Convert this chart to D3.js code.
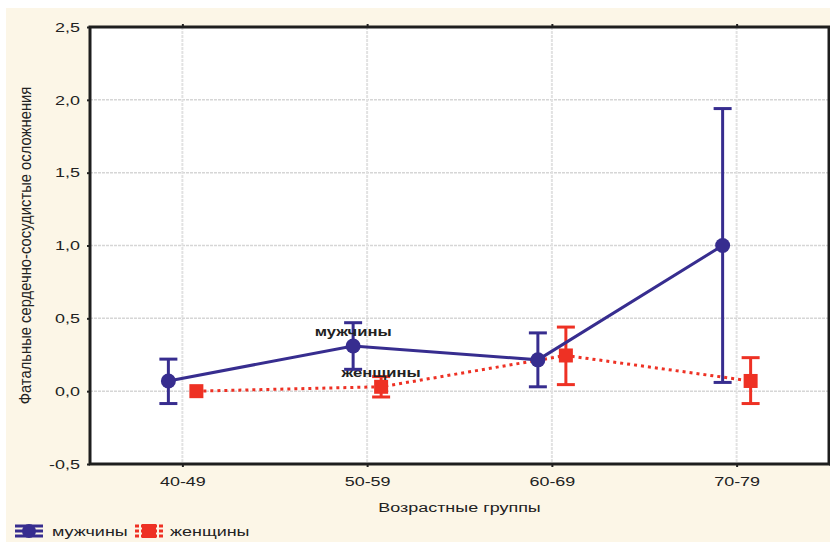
<!DOCTYPE html>
<html>
<head>
<meta charset="utf-8">
<script src="https://cdn.jsdelivr.net/npm/d3@7"></script>
<style>
    html, body { margin: 0; padding: 0; background: #ffffff; }
    svg { display: block; font-family: Arial, "Liberation Sans", sans-serif; }
</style>
</head>
<body>
<div id="chart"></div>
<script>
// Age groups (x categories)
const groups = ["40-49", "50-59", "60-69", "70-79"];

// Men: mean and interval
const menMean = [0.07, 0.31, 0.215, 1.0];
const menLow  = [-0.085, 0.15, 0.03, 0.06];
const menHigh = [0.22, 0.47, 0.40, 1.94];

// Women: mean and interval
const womenMean = [0.0, 0.03, 0.245, 0.07];
const womenLow  = [0.0, -0.04, 0.045, -0.085];
const womenHigh = [0.0, 0.10, 0.44, 0.23];

const yTicks = [-0.5, 0, 0.5, 1.0, 1.5, 2.0, 2.5];
const seriesNames = ["мужчины", "женщины"];

const W = 830, H = 542;
const margin = { top: 27, right: 1, bottom: 78, left: 90 };
const width = W - margin.left - margin.right;
const height = H - margin.top - margin.bottom;

const menColor = "#372d8f";
const womenColor = "#ee3124";
const textColor = "#222";
const stretch = 1.33; // the source chart's lettering is wide
const fmt = v => d3.format(".1f")(v).replace(".", ",").replace("−", "-");

// move a text's x/y into a transform and widen it
function widen(sel) {
    sel.each(function() {
        const t = d3.select(this);
        const tx = +t.attr("x") || 0, ty = +t.attr("y") || 0;
        t.attr("x", 0).attr("y", 0)
         .attr("transform", `translate(${tx},${ty}) scale(${stretch},1)`);
    });
}

const svg = d3.select("#chart").append("svg")
    .attr("width", W)
    .attr("height", H);

// cream background panel
svg.append("rect")
    .attr("x", 6).attr("y", 8)
    .attr("width", W - 6).attr("height", H - 8)
    .attr("fill", "#fcf6e7");

const g = svg.append("g")
    .attr("transform", `translate(${margin.left},${margin.top})`);

// Scales
const x = d3.scalePoint()
    .domain(groups)
    .range([0, width])
    .padding(0.5);

const y = d3.scaleLinear()
    .domain([-0.5, 2.5])
    .range([height, 0]);

// plot area
g.append("rect")
    .attr("width", width).attr("height", height)
    .attr("fill", "#ffffff");

// grid lines
g.selectAll(".hgrid")
    .data(yTicks.slice(1, -1))
    .enter().append("line")
    .attr("x1", 0).attr("x2", width)
    .attr("y1", d => y(d)).attr("y2", d => y(d))
    .attr("stroke", "#d6d6d6")
    .attr("stroke-width", 1.5)
    .attr("stroke-dasharray", "3,1");

g.selectAll(".vgrid")
    .data(groups)
    .enter().append("line")
    .attr("x1", d => x(d)).attr("x2", d => x(d))
    .attr("y1", 0).attr("y2", height)
    .attr("stroke", "#e2e2e2")
    .attr("stroke-width", 2)
    .attr("stroke-dasharray", "3,1");

// Axes (ticks outward, labels only left/bottom)
g.append("g")
    .attr("transform", `translate(0,${height})`)
    .call(d3.axisBottom(x).tickSize(3).tickPadding(9))
    .call(a => a.select(".domain").remove())
    .call(a => a.selectAll("line").attr("stroke", "#222").attr("stroke-width", 2))
    .call(a => a.selectAll("text").attr("fill", textColor).style("font-size", "13.5px").call(widen));

g.append("g")
    .call(d3.axisLeft(y).tickValues(yTicks).tickFormat(fmt).tickSize(3).tickPadding(7))
    .call(a => a.select(".domain").remove())
    .call(a => a.selectAll("line").attr("stroke", "#222").attr("stroke-width", 2))
    .call(a => a.selectAll("text").attr("fill", textColor).style("font-size", "13.5px").call(widen));

g.append("g")
    .call(d3.axisTop(x).tickSize(3).tickFormat(""))
    .call(a => a.select(".domain").remove())
    .call(a => a.selectAll("line").attr("stroke", "#222").attr("stroke-width", 2));

g.append("g")
    .attr("transform", `translate(${width},0)`)
    .call(d3.axisRight(y).tickValues(yTicks).tickSize(3).tickFormat(""))
    .call(a => a.select(".domain").remove())
    .call(a => a.selectAll("line").attr("stroke", "#222").attr("stroke-width", 2));

// frame
g.append("rect")
    .attr("width", width).attr("height", height)
    .attr("fill", "none")
    .attr("stroke", "#1e1e1e")
    .attr("stroke-width", 3);

// Axis labels
svg.append("text")
    .attr("x", margin.left + width / 2)
    .attr("y", 512)
    .attr("text-anchor", "middle")
    .attr("fill", textColor)
    .style("font-size", "13.5px")
    .text("Возрастные группы")
    .call(widen);

svg.append("text")
    .attr("transform", `translate(31,${margin.top + height / 2}) rotate(-90) scale(1,1.15)`)
    .attr("text-anchor", "middle")
    .attr("fill", textColor)
    .style("font-size", "14.8px")
    .text("Фатальные сердечно-сосудистые осложнения");

// Build series
const series = [
    { name: seriesNames[0], color: menColor, shift: -14, dash: null, shape: "circle",
      values: groups.map((gr, i) => ({ group: gr, mean: menMean[i], low: menLow[i], high: menHigh[i] })) },
    { name: seriesNames[1], color: womenColor, shift: 14, dash: "3,4", shape: "square",
      values: groups.map((gr, i) => ({ group: gr, mean: womenMean[i], low: womenLow[i], high: womenHigh[i] })) }
];

const line = d3.line()
    .x(d => d.px)
    .y(d => y(d.mean));

const capW = 9;

// women first so men line sits on top where they cross
series.slice().reverse().forEach(s => {
    s.values.forEach(d => { d.px = x(d.group) + s.shift; });
    const sg = g.append("g");

    sg.append("path")
        .attr("d", line(s.values))
        .attr("fill", "none")
        .attr("stroke", s.color)
        .attr("stroke-width", 3)
        .attr("stroke-dasharray", s.dash);

    const eb = sg.selectAll(".err")
        .data(s.values.filter(d => d.high > d.low))
        .enter().append("g");
    eb.append("line")
        .attr("x1", d => d.px).attr("x2", d => d.px)
        .attr("y1", d => y(d.low)).attr("y2", d => y(d.high))
        .attr("stroke", s.color).attr("stroke-width", 3);
    ["low", "high"].forEach(k => {
        eb.append("line")
            .attr("x1", d => d.px - capW).attr("x2", d => d.px + capW)
            .attr("y1", d => y(d[k])).attr("y2", d => y(d[k]))
            .attr("stroke", s.color).attr("stroke-width", 3);
    });

    if (s.shape === "circle") {
        sg.selectAll(".pt").data(s.values).enter().append("circle")
            .attr("cx", d => d.px).attr("cy", d => y(d.mean))
            .attr("r", 7.5)
            .attr("fill", s.color);
    } else {
        sg.selectAll(".pt").data(s.values).enter().append("rect")
            .attr("x", d => d.px - 7).attr("y", d => y(d.mean) - 7)
            .attr("width", 14).attr("height", 14)
            .attr("fill", s.color);
    }

    // in-plot label above the 50-59 point
    const lp = s.values[1];
    g.append("text")
        .attr("x", lp.px)
        .attr("y", y(lp.mean) - 10)
        .attr("text-anchor", "middle")
        .attr("fill", textColor)
        .style("font-size", "12.5px")
        .style("font-weight", "bold")
        .text(s.name)
        .call(widen);
});

// Legend
const legend = svg.selectAll(".legend")
    .data(series)
    .enter().append("g")
    .attr("transform", (d, i) => `translate(${i === 0 ? 15 : 135},531)`);

legend.each(function(s) {
    const lg = d3.select(this);
    [-5, 0, 5].forEach(dy => {
        lg.append("line")
            .attr("x1", 0).attr("x2", 28)
            .attr("y1", dy).attr("y2", dy)
            .attr("stroke", s.color)
            .attr("stroke-width", 3)
            .attr("stroke-dasharray", s.dash ? "4,2" : null);
    });
    if (s.shape === "circle") {
        lg.append("circle").attr("cx", 14).attr("cy", 0).attr("r", 7).attr("fill", s.color);
    } else {
        lg.append("rect").attr("x", 7).attr("y", -7).attr("width", 14).attr("height", 14).attr("fill", s.color);
    }
    lg.append("text")
        .attr("x", s.shape === "circle" ? 37 : 35)
        .attr("y", 5)
        .attr("fill", textColor)
        .style("font-size", "13.5px")
        .text(s.name)
        .call(widen);
});
</script>
</body>
</html>
